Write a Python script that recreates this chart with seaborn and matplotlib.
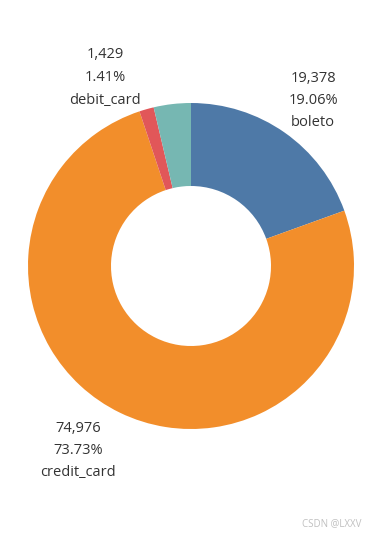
import matplotlib
matplotlib.use("Agg")
import matplotlib.pyplot as plt
import seaborn as sns
import numpy as np

# ---- data ----
categories = ["boleto", "credit_card", "debit_card", "voucher"]
counts = [19378, 74976, 1429, 3660]
count_labels = ["19,378", "74,976", "1,429", None]
pct_labels = ["19.06%", "73.73%", "1.41%", None]
colors = ["#4e79a7", "#f28e2b", "#e15759", "#76b7b2"]

sns.set_theme(style="white")
plt.rcParams["font.family"] = ["Open Sans", "DejaVu Sans"]

W, H = 387, 537
fig = plt.figure(figsize=(W / 100, H / 100), dpi=100)
ax = fig.add_axes([0, 0, 1, 1])
ax.set_xlim(0, W)
ax.set_ylim(0, H)
ax.set_aspect("equal")
ax.axis("off")

cx, cy = 191, H - 266
R, r_in = 163, 80
wedges, _ = ax.pie(counts, colors=colors, startangle=90, counterclock=False,
                   center=(cx, cy), radius=R,
                   wedgeprops=dict(width=R - r_in, linewidth=0))
ax.set_xlim(0, W)
ax.set_ylim(0, H)

# label anchors (pixel positions of label block centres, top line y)
label_pos = {0: (313, 78), 1: (78, 428), 2: (105, 55)}
step = 22.5
for i, (x, y0) in label_pos.items():
    lines = [count_labels[i], pct_labels[i], categories[i]]
    for k, t in enumerate(lines):
        ax.text(x, H - (y0 + k * step), t, ha="center", va="center",
                fontsize=10.5, color="#333333")

ax.text(362, H - 524, "CSDN @LXXV", ha="right", va="center",
        fontsize=7, color="#c0c0c0")

fig.savefig("out.png", dpi=100)
